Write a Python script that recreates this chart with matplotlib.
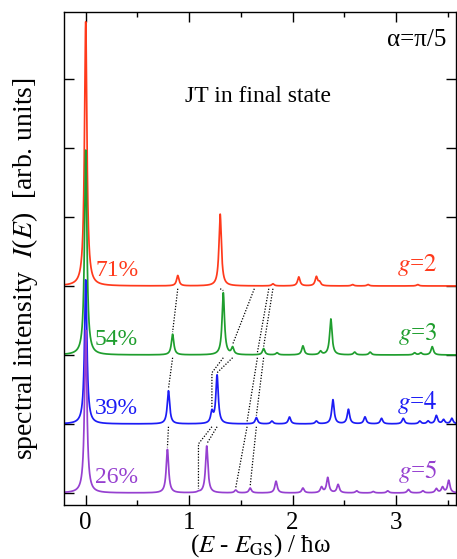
import numpy as np
import matplotlib
matplotlib.use("Agg")
from matplotlib import pyplot as plt

# peak positions (E - E_GS)/hbar*omega and peak heights
red_E = [0.00, 0.89, 1.30, 1.81, 2.06, 2.23, 2.26, 2.58, 2.73, 3.21]
red_h = [3.83, 0.15, 1.04, 0.03, 0.13, 0.13, 0.05, 0.02, 0.02, 0.02]

green_E = [0.00, 0.84, 1.33, 1.42, 1.72, 1.85, 2.10, 2.27, 2.37, 2.60, 2.75, 3.18, 3.24, 3.35]
green_h = [2.97, 0.30, 0.90, 0.10, 0.09, 0.03, 0.13, 0.05, 0.52, 0.04, 0.04, 0.03, 0.03, 0.12]

blue_E = [0.00, 0.80, 1.22, 1.27, 1.65, 1.80, 1.97, 2.23, 2.39, 2.54, 2.70, 2.86, 3.07,
          3.23, 3.31, 3.39, 3.46, 3.54]
blue_h = [2.09, 0.48, 0.16, 0.70, 0.09, 0.04, 0.10, 0.04, 0.35, 0.21, 0.10, 0.08, 0.08,
          0.04, 0.04, 0.12, 0.06, 0.08]

purple_E = [0.00, 0.79, 1.09, 1.17, 1.45, 1.59, 1.84, 2.10, 2.28, 2.34, 2.44, 2.62, 2.78,
            2.92, 3.12, 3.26, 3.39, 3.45, 3.51]
purple_h = [2.36, 0.63, 0.01, 0.68, 0.04, 0.07, 0.17, 0.07, 0.08, 0.22, 0.12, 0.03, 0.02,
            0.03, 0.05, 0.03, 0.06, 0.08, 0.18]

g_values = [2, 3, 4, 5]
weights = ["71%", "54%", "39%", "26%"]
offsets = [3, 2, 1, 0]
colors = ["#ff3a1c", "#1f9e2e", "#1c1cf5", "#9640d0"]

# dotted guide lines: upper spectrum index, energy there, energy in lower spectrum,
# energy whose peak top sets the knee height
link_from = [0, 0, 0, 0, 0, 1, 1, 1, 1, 1, 2, 2, 2, 2, 2]
link_E_up = [0.89, 1.30, 1.63, 1.77, 1.81, 0.84, 1.33, 1.42, 1.66, 1.72, 0.80, 1.22, 1.27, 1.56, 1.65]
link_E_low = [0.84, 1.33, 1.42, 1.66, 1.72, 0.80, 1.22, 1.27, 1.56, 1.65, 0.79, 1.09, 1.17, 1.45, 1.59]
link_E_knee = [0.84, 1.33, 1.42, 1.66, 1.72, 0.80, 1.27, 1.27, 1.56, 1.65, 0.79, 1.17, 1.17, 1.45, 1.59]

gamma = 0.014


def spectrum(E, pos, h):
    out = np.zeros_like(E)
    for p, a in zip(pos, h):
        out += a * gamma**2 / ((E - p) ** 2 + gamma**2)
    return out


def main():
    plt.rcParams["font.family"] = ["Liberation Serif", "DejaVu Serif"]
    plt.rcParams["mathtext.fontset"] = "stix"

    fig = plt.figure(figsize=(4.57, 5.59), dpi=100)
    ax = fig.add_axes([64 / 457, 54 / 559, 392 / 457, 493 / 559])

    E = np.linspace(-0.25, 3.65, 6000)
    peaks = [(red_E, red_h), (green_E, green_h), (blue_E, blue_h), (purple_E, purple_h)]
    curves = []
    for (pos, h), off, col in zip(peaks, offsets, colors):
        ax.plot(E, off + spectrum(E, pos, h), color=col, lw=1.25)
        curves.append((pos, h, off))

    for k, ju, el, ek in zip(link_from, link_E_up, link_E_low, link_E_knee):
        pos_l, h_l, off_l = curves[k + 1]
        y0 = offsets[k] - 0.04
        yk = off_l + spectrum(np.array([ek]), pos_l, h_l)[0] + 0.03
        yl = off_l + spectrum(np.array([el]), pos_l, h_l)[0] + 0.03
        ax.plot([ju, el, el], [y0, yk, yl], color="black", lw=0.9,
                linestyle=(0, (1, 1.3)))

    for g, w, off, col in zip(g_values, weights, offsets, colors):
        ax.text(0.09, off + 0.07, w, color=col, fontsize=17, va="bottom", ha="left")
        ax.text(3.40, off + 0.12, f"$g$=${g}$", color=col, fontsize=18, va="bottom", ha="right")

    ax.text(0.975, 0.965, "α=π/5", transform=ax.transAxes, fontsize=18, ha="right", va="top")
    ax.text(1.67, 5.74, "JT in final state", fontsize=17, ha="center", va="center")

    ax.set_xlim(-0.21, 3.58)
    ax.set_ylim(-0.174, 6.97)
    ax.set_xticks([0, 1, 2, 3])
    ax.set_xticks([0.5, 1.5, 2.5, 3.5], minor=True)
    ax.set_yticks(range(7))
    ax.set_yticklabels([])
    ax.tick_params(which="both", direction="in", top=True, right=True, width=1.0)
    ax.tick_params(which="major", length=7, labelsize=18, pad=5)
    ax.tick_params(which="minor", length=3.5)
    for s in ax.spines.values():
        s.set_linewidth(1.0)

    ax.set_xlabel(r"($E$ - $E_{\rm GS}$) / ħω", fontsize=18, labelpad=-1)
    ax.set_ylabel(r"spectral intensity  $I$($E$)  [arb. units]", fontsize=20)
    ax.yaxis.set_label_coords(-0.06, 0.48)

    fig.savefig("out.png", dpi=100)


if __name__ == "__main__":
    main()
